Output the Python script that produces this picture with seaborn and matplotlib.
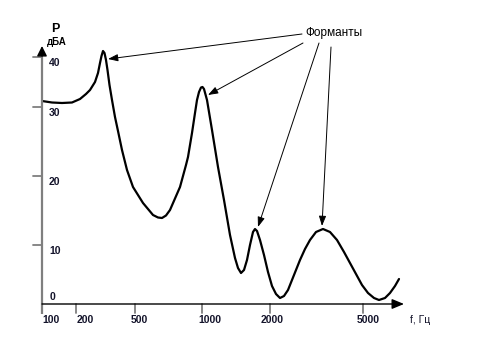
import matplotlib
matplotlib.use("Agg")
import matplotlib.pyplot as plt
import seaborn as sns
import pandas as pd

# ---- data (axis units: x = horizontal position along frequency axis, y = level position) ----
freq_tick_pos = [0, 34, 93, 160, 228, 321]
freq_tick_labels = ["100", "200", "500", "1000", "2000", "5000"]
level_tick_pos = [59, 128, 197, 247]
level_tick_labels = ["10", "20", "30", "40"]

curve_x = [0, 10, 20, 30, 38, 44, 48, 53, 56, 58, 59.5, 61, 62.5, 64, 65.5, 67.5, 70, 73,
           76, 80, 85, 91, 101, 111, 116, 120, 124, 128, 138, 144, 146, 150, 153, 155,
           157, 159, 160.5, 162, 165, 170, 176, 182, 188, 193, 196, 199, 202, 205, 208,
           211, 213, 215, 218, 222, 226, 230, 234, 238, 242, 246, 250, 254, 258, 263,
           268, 274, 281, 288, 295, 302, 308, 314, 320, 326, 332, 337, 343, 348, 353, 357]
curve_y = [203, 201.5, 201, 201.5, 205, 210, 214, 222, 231, 241, 248, 253, 251, 244, 234,
           219, 204, 187, 173, 154, 134, 117, 101, 89, 86.5, 86, 88.5, 94, 117, 139, 147,
           171, 191, 204, 212, 216.5, 217, 215, 204, 174, 137, 104, 69, 46, 36, 31, 34,
           44, 59, 72, 75, 73, 64, 49, 32, 18, 10, 6, 8, 14, 24, 34, 44, 55, 64, 72, 75,
           72, 64, 52, 41, 30, 19, 11, 6, 4, 6, 11, 18, 25]

peak_x = [66, 166, 216, 280]
peak_y = [245, 209, 77, 78]
label_text = "Форманты"

sns.set_theme(style="white")
plt.rcParams["font.family"] = ["Liberation Sans", "DejaVu Sans"]

fig = plt.figure(figsize=(4.8, 3.6), dpi=100)
ax = fig.add_axes([0, 0, 1, 1])
ax.set_xlim(-42, 438)
ax.set_ylim(-56, 304)
ax.axis("off")

df = pd.DataFrame({"x": curve_x, "y": curve_y})
sns.lineplot(data=df, x="x", y="y", ax=ax, color="black", lw=1.6, sort=False,
             estimator=None)
ax.lines[-1].set_solid_joinstyle("round")

gray = "#7f7f7f"
# y axis with arrow
ax.plot([0, 0], [-10, 250], color=gray, lw=1.6, solid_capstyle="butt")
ax.annotate("", xy=(0, 258), xytext=(0, 248),
            arrowprops=dict(arrowstyle="-|>,head_length=0.5,head_width=0.25",
                            color="black", lw=1, shrinkA=0, shrinkB=0))
# x axis with arrow
ax.annotate("", xy=(362, 0), xytext=(0, 0),
            arrowprops=dict(arrowstyle="-|>,head_length=0.6,head_width=0.25",
                            color="black", lw=1, shrinkA=0, shrinkB=0))

txt_col = "#14142b"
# y ticks & labels
for p, lab in zip(level_tick_pos, level_tick_labels):
    ax.plot([-9, 0], [p, p], color=gray, lw=1.3)
    ax.text(7, p - 6, lab, fontsize=7.5, fontweight="bold", ha="left", va="center",
            color=txt_col)
ax.text(10, 7, "0", fontsize=7.5, fontweight="bold", ha="center", va="center",
        color=txt_col)

# x ticks & labels
x_label_offset = [9, 9, 4, 8, 2, 5]
for p, lab, off in zip(freq_tick_pos, freq_tick_labels, x_label_offset):
    ax.plot([p, p], [0, -9], color=gray, lw=1.3)
    ax.text(p + off, -16, lab, fontsize=7.5, fontweight="bold", ha="center",
            va="center", color=txt_col)

ax.text(13, 275, "P", fontsize=9, fontweight="bold", ha="center", va="center",
        color="black")
ax.text(15, 262, "дБА", fontsize=7, fontweight="bold", ha="center", va="center",
        color="black")
ax.text(378, -16, "f, Гц", fontsize=7.5, ha="center", va="center", color=txt_col)

# annotation
ax.text(292, 271, label_text, fontsize=8.5, ha="center", va="center", color="black")
starts = [(260, 270), (261, 261), (277, 261), (289, 257)]
for (sx, sy), px, py in zip(starts, peak_x, peak_y):
    ax.annotate("", xy=(px, py), xytext=(sx, sy),
                arrowprops=dict(arrowstyle="-|>,head_length=0.5,head_width=0.18",
                                color="black", lw=0.7, shrinkA=0, shrinkB=0))

fig.savefig("out.png", dpi=100)
